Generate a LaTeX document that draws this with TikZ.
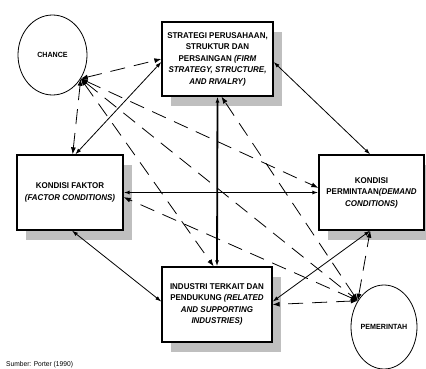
\documentclass[tikz,border=0pt]{standalone}
\usepackage{fontspec}
\setmainfont{Liberation Sans}[FakeStretch=0.95]
\usetikzlibrary{shapes.geometric,shadows,arrows.meta}

\begin{document}
\begin{tikzpicture}[x=1pt,y=-1pt,
box/.style={draw,line width=1.3pt,fill=white,align=center,inner sep=2pt,
  font=\fontsize{8.4}{11.5}\selectfont\bfseries,
  drop shadow={shadow xshift=9pt,shadow yshift=-10pt,fill=black!25,opacity=1}},
circ/.style={draw,ellipse,line width=0.8pt,inner sep=0pt,
  font=\fontsize{7.5}{9}\selectfont\bfseries},
link/.style={{Latex[length=6pt,width=4pt]}-{Latex[length=6pt,width=4pt]},line width=0.8pt},
bold link/.style={link,line width=1.8pt},
dash link/.style={{Latex[length=7pt,width=5pt]}-{Latex[length=7pt,width=5pt]},
  line width=0.8pt,dash pattern=on 15pt off 9pt}]
\useasboundingbox (0,0) rectangle (426,369);

\node (chance) [circ,minimum width=69pt,minimum height=80pt] at (52.5,55) {CHANCE};
\node (pemerintah) [circ,minimum width=66pt,minimum height=84pt] at (384,327) {PEMERINTAH};

\node (strategi) [box,minimum width=111pt,minimum height=74pt] at (217.5,59)
  {STRATEGI PERUSAHAAN,\\ STRUKTUR DAN\\ PERSAINGAN \textit{(FIRM}\\
   \textit{STRATEGY, STRUCTURE,}\\ \textit{AND RIVALRY)}};
\node (faktor) [box,minimum width=106pt,minimum height=75pt] at (70,192.5)
  {KONDISI FAKTOR\\ \textit{(FACTOR CONDITIONS)}};
\node (permintaan) [box,minimum width=105pt,minimum height=75pt] at (371.5,192.5)
  {KONDISI\\ PERMINTAAN\textit{(DEMAND}\\ \textit{CONDITIONS)}};
\node (industri) [box,minimum width=110pt,minimum height=75pt] at (217,304.5)
  {INDUSTRI TERKAIT DAN\\ PENDUKUNG \textit{(RELATED}\\ \textit{AND SUPPORTING}\\
   \textit{INDUSTRIES)}};

\node (sumber) [anchor=south west,inner sep=0pt,font=\fontsize{7}{8}\selectfont]
  at (6,368) {Sumber: Porter (1990)};

% diamond
\draw [link] (faktor.82) -- (strategi.183);
\draw [link] (strategi.357) -- (permintaan.92);
\draw [link] (faktor.273) -- (industri.177);
\draw [link] (permintaan.268) -- (industri.3);
\draw [bold link] (faktor.east) -- (permintaan.west);
\draw [bold link] (strategi.south) -- (industri.north);

% chance and pemerintah
\draw [dash link] (chance.-40) -- (strategi.180);
\draw [dash link] (chance.-40) -- (faktor.86);
\draw [dash link] (chance.-40) -- (permintaan.175);
\draw [dash link] (chance.-40) -- (industri.95);
\draw [dash link] (chance.-40) -- (pemerintah.135);
\draw [dash link] (pemerintah.135) -- (strategi.276);
\draw [dash link] (pemerintah.135) -- (faktor.355);
\draw [dash link] (pemerintah.135) -- (industri.0);
\draw [dash link] (pemerintah.135) -- (permintaan.268);
\end{tikzpicture}
\end{document}
